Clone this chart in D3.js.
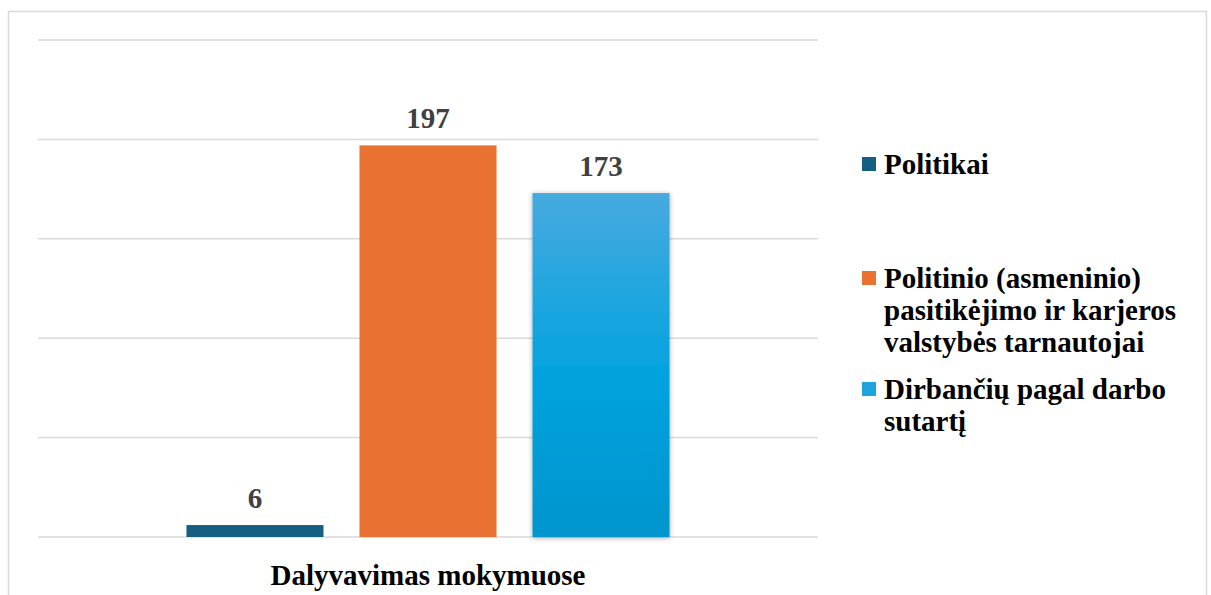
<!DOCTYPE html>
<html>
<head>
<meta charset="utf-8">
<script src="https://cdn.jsdelivr.net/npm/d3@7"></script>
<style>
  body { margin: 0; background: #fff; }
  svg { display: block; }
</style>
</head>
<body>
<svg id="chart" width="1211" height="595"></svg>
<script>
const categories = ['Dalyvavimas mokymuose'];
const series = ['Politikai', 'Politinio (asmeninio) pasitikėjimo ir karjeros valstybės tarnautojai', 'Dirbančių pagal darbo sutartį'];
const values = [6, 197, 173];
const legendLines = [
  ['Politikai'],
  ['Politinio (asmeninio)', 'pasitikėjimo ir karjeros', 'valstybės tarnautojai'],
  ['Dirbančių pagal darbo', 'sutartį']
];
const yTicks = [0, 50, 100, 150, 200, 250];

const FONT = 'Liberation Serif';
const FS = 29;
const svg = d3.select('#chart');
const colors = ['#156082', '#e97132', 'url(#blueGrad)'];
const swatch = ['#156082', '#e97132', '#1ea3dc'];

const defs = svg.append('defs');
const grad = defs.append('linearGradient').attr('id', 'blueGrad')
  .attr('x1', 0).attr('y1', 0).attr('x2', 0).attr('y2', 1);
grad.append('stop').attr('offset', '0%').attr('stop-color', '#47aadf');
grad.append('stop').attr('offset', '55%').attr('stop-color', '#00a2de');
grad.append('stop').attr('offset', '100%').attr('stop-color', '#0095cd');
const sh = defs.append('filter').attr('id', 'shadow')
  .attr('x', '-10%').attr('y', '-10%').attr('width', '120%').attr('height', '120%');
sh.append('feDropShadow').attr('dx', 0).attr('dy', 1).attr('stdDeviation', 2.5)
  .attr('flood-color', '#000').attr('flood-opacity', 0.35);

// frame
svg.append('rect').attr('x', 8.5).attr('y', 11.5).attr('width', 1198).attr('height', 600)
  .attr('fill', 'none').attr('stroke', '#d9d9d9').attr('stroke-width', 1.5);

const plotL = 38, plotR = 818, plotT = 40, plotB = 537;
const y = d3.scaleLinear().domain([0, 250]).range([plotB, plotT]);
const x0 = d3.scaleBand().domain(categories).range([plotL, plotR]);
const x1 = d3.scaleBand().domain(series).range([0, x0.bandwidth()])
  .paddingInner(0.208).paddingOuter(0.858);

svg.append('g').selectAll('line').data(yTicks).join('line')
  .attr('x1', plotL).attr('x2', plotR)
  .attr('y1', d => y(d)).attr('y2', d => y(d))
  .attr('stroke', '#d9d9d9').attr('stroke-width', 1.5);

const data = series.map((s, i) => ({ s, v: values[i], i }));
const g = svg.append('g').attr('transform', `translate(${x0(categories[0])},0)`);

g.selectAll('rect').data(data).join('rect')
  .attr('x', d => x1(d.s)).attr('width', x1.bandwidth())
  .attr('y', d => y(d.v)).attr('height', d => y(0) - y(d.v))
  .attr('fill', d => colors[d.i])
  .attr('filter', d => d.i === 2 ? 'url(#shadow)' : null);

g.selectAll('text.val').data(data).join('text').attr('class', 'val')
  .attr('x', d => x1(d.s) + x1.bandwidth() / 2)
  .attr('y', d => y(d.v) - 17)
  .attr('text-anchor', 'middle').attr('font-size', FS).attr('fill', '#404040')
  .attr('font-family', FONT).attr('font-weight', 'bold')
  .text(d => d.v);

svg.append('text').attr('x', x0(categories[0]) + x0.bandwidth() / 2).attr('y', 585)
  .attr('text-anchor', 'middle').attr('font-size', FS).attr('fill', '#000')
  .attr('font-family', FONT).attr('font-weight', 'bold')
  .text(categories[0]);

// legend
const legendY = [164, 278, 389];
const lg = svg.append('g');
legendLines.forEach((lines, i) => {
  lg.append('rect').attr('x', 862).attr('y', legendY[i] - 7).attr('width', 14).attr('height', 14)
    .attr('fill', swatch[i]);
  lines.forEach((t, j) => {
    lg.append('text').attr('x', 884).attr('y', legendY[i] + 10 + j * 32)
      .attr('font-size', FS).attr('fill', '#000')
      .attr('font-family', FONT).attr('font-weight', 'bold')
      .text(t);
  });
});
</script>
</body>
</html>
